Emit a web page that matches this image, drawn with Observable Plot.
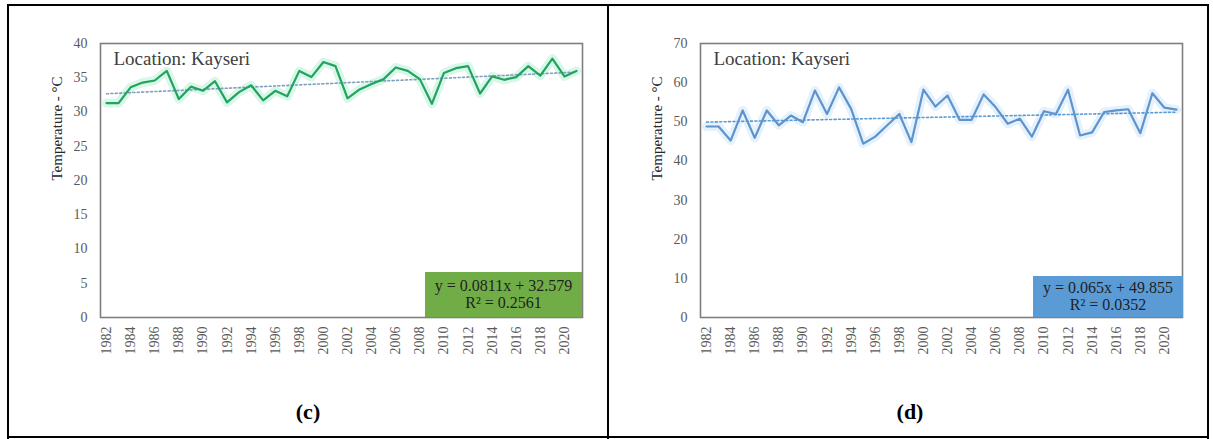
<!DOCTYPE html>
<html><head><meta charset="utf-8">
<script src="https://cdn.jsdelivr.net/npm/d3@7"></script>
<script src="https://cdn.jsdelivr.net/npm/@observablehq/plot@0.6"></script>
<style>
body{margin:0;background:#fff;width:1213px;height:439px;overflow:hidden;position:relative;font-family:"Liberation Serif","Times New Roman",serif}
.chart{position:absolute;top:5px}
.bl{position:absolute;background:#000}
.eq{position:absolute;color:#1f1f1f;font-size:16px;text-align:center;line-height:17px;box-sizing:border-box;padding-top:5px;font-family:"Liberation Serif",serif;white-space:nowrap}
.lab{position:absolute;font-weight:bold;font-size:22px;transform:translate(-50%,-50%);color:#000;font-family:"Liberation Serif",serif}
</style></head><body>
<div class="bl" style="left:7px;top:4px;width:1202px;height:2px"></div>
<div class="bl" style="left:7px;top:4px;width:2px;height:435px"></div>
<div class="bl" style="left:607px;top:4px;width:2px;height:435px"></div>
<div class="bl" style="left:1207px;top:4px;width:2px;height:435px"></div>
<div class="bl" style="left:7px;top:436px;width:1202px;height:2px"></div>
<div id="c" class="chart" style="left:8px"></div>
<div id="d" class="chart" style="left:608px"></div>
<div class="eq" style="left:425px;top:272px;width:157px;height:45px;background:#70ad47">y = 0.0811x + 32.579<br>R² = 0.2561</div>
<div class="eq" style="left:1033px;top:276px;width:150px;height:41px;background:#5b9bd5;padding-top:3px">y = 0.065x + 49.855<br>R² = 0.0352</div>
<div class="lab" style="left:308px;top:412px">(c)</div>
<div class="lab" style="left:910px;top:412px">(d)</div>
<script>
const years = d3.range(1982, 2022);
const tempC = [31.3,31.3,33.6,34.3,34.6,36.0,31.9,33.7,33.1,34.5,31.4,32.9,33.9,31.7,33.1,32.3,36.0,35.1,37.3,36.7,32.0,33.3,34.1,34.8,36.5,36.0,34.8,31.2,35.7,36.4,36.7,32.7,35.2,34.7,35.1,36.7,35.3,37.8,35.2,36.0];
const tempD = [48.8,48.8,45.2,52.9,45.9,52.9,49.1,51.6,49.9,58.0,52.0,58.8,53.3,44.4,46.2,49.1,52.0,44.8,58.2,53.9,56.7,50.5,50.5,57.0,53.7,49.5,50.8,46.2,52.7,52.0,58.2,46.5,47.3,52.5,52.9,53.2,47.1,57.3,53.6,53.1];
const trendC = {slope: 0.0811, intercept: 32.579};
const trendD = {slope: 0.065, intercept: 49.855};
const locationLabel = "Location: Kayseri";
const yLabel = "Temperature - °C";
const xTicks = d3.range(1982, 2021, 2);
const serif = "'Liberation Serif', 'Times New Roman', serif";

function chart(values, trend, yMax, yStep, lineColor, glowColor, trendColor) {
  const data = years.map((y, i) => ({year: y, value: values[i], trend: trend.intercept + trend.slope * (i + 1)}));
  return Plot.plot({
    width: 600, height: 370,
    marginLeft: 92, marginRight: 26, marginTop: 38, marginBottom: 58,
    style: {fontFamily: serif, fontSize: "14px", color: "#595959", background: "transparent"},
    x: {type: "linear", domain: [1981.5, 2021.5], ticks: xTicks, tickFormat: "d", tickRotate: -90, tickSize: 0, tickPadding: 9, label: null},
    y: {domain: [0, yMax], ticks: d3.range(0, yMax + 1, yStep), tickSize: 0, tickPadding: 13, label: null},
    marks: [
      Plot.line(data, {x: "year", y: "value", stroke: glowColor, strokeWidth: 9, strokeOpacity: 0.35}),
      Plot.line(data, {x: "year", y: "trend", stroke: trendColor, strokeWidth: 1.6, strokeDasharray: "2,2.4"}),
      Plot.line(data, {x: "year", y: "value", stroke: lineColor, strokeWidth: 2.2}),
      Plot.frame({stroke: "#7f7f7f", strokeWidth: 1.6}),
      Plot.text([locationLabel], {frameAnchor: "top-left", dx: 13, dy: 15, lineAnchor: "middle", textAnchor: "start", fontSize: 19, fontFamily: serif, fill: "#404040"}),
      Plot.text([yLabel], {frameAnchor: "left", dx: -43, rotate: -90, fontSize: 15, fontFamily: serif, fill: "#262626"})
    ]
  });
}
document.getElementById("c").append(chart(tempC, trendC, 40, 5, "#23a35c", "#8fe8c4", "#7f9fbf"));
document.getElementById("d").append(chart(tempD, trendD, 70, 10, "#5e93cc", "#b5d7f5", "#5b9bd5"));
</script>
</body></html>
